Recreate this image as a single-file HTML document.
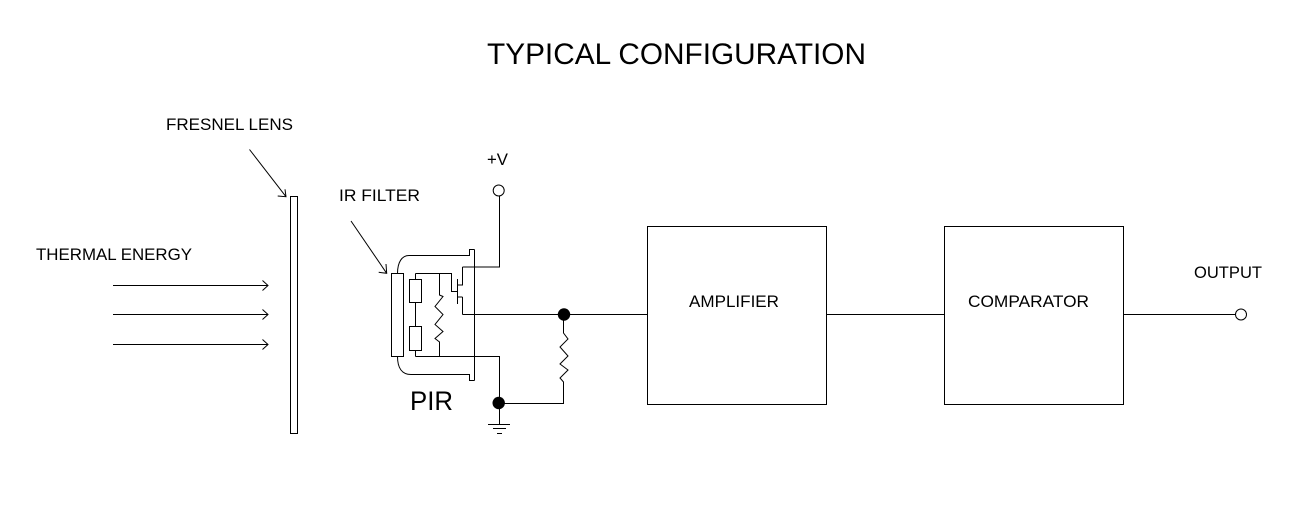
<!DOCTYPE html>
<html><head><meta charset="utf-8"><style>
html,body{margin:0;padding:0;background:#fff;width:1298px;height:515px;overflow:hidden}
svg{display:block}
text{font-family:"Liberation Sans",sans-serif;fill:#000}
</style></head><body>
<svg width="1298" height="515" viewBox="0 0 1298 515" xmlns="http://www.w3.org/2000/svg">
<g fill="none" stroke="#000" stroke-width="1">
<rect x="290.500" y="196.500" width="7" height="237"/>
<path d="M113 285.500H267.500M262.500 280.500L268 285.500L262.500 290.500"/>
<path d="M113 314.500H267.500M262.500 309.500L268 314.500L262.500 319.500"/>
<path d="M113 344.500H267.500M262.500 339.500L268 344.500L262.500 349.500"/>
<path d="M249.500 149.500L286 196.700M277.700 196L286 196.700L285 189.300"/>
<path d="M351 221L386.700 273.300M378.700 272.300L386.700 273.300L386 264"/>
<rect x="391.500" y="273.500" width="12" height="83"/>
<path d="M397.500 273.500C397.500 262 402 255.500 409 255.500H469.500V249.500H474.500"/>
<path d="M397.500 356.500C397.500 368 402 374.500 411 374.500H469.500V380.500H474.500"/>
<path d="M474.500 249.500V380.500"/>
<path d="M415.500 273.500H451.500V291.500H457.500"/>
<path d="M457.500 279V304"/>
<path d="M462.500 267V285H457.500M462.500 297H457.500M462.500 297V314.500"/>
<path d="M462.500 267H499.500V196"/>
<path d="M462.500 314.500H647.500"/>
<rect x="409.500" y="279.500" width="12" height="23"/>
<rect x="409.500" y="326.500" width="12" height="24"/>
<path d="M415.500 273.500V279.500M415.500 302.500V326.500M415.500 350.500V356.500"/>
<path d="M439.500 273.500V295L443 296.500L435 306.500L443 314.500L435 324.500L443 331.500L435 338.500L439.500 342V356.500"/>
<path d="M415.500 356.500H499.500V424.500"/>
<path d="M488 424.500H510M493 428.500H506M497 433.500H502"/>
<path d="M499.500 403.500H563.500V382L560 378L568 370L560 364L568 356L560 347L568 339L563.500 333V314.500"/>
<rect x="647.500" y="226.500" width="179" height="178"/>
<rect x="944.500" y="226.500" width="179" height="178"/>
<path d="M826.500 314.500H944.500M1123.500 314.500H1235.500"/>
<circle cx="498.700" cy="190.500" r="5.500"/>
<circle cx="1241" cy="314.500" r="5.500"/>
</g>
<circle cx="498.700" cy="403" r="6.200" fill="#000"/>
<circle cx="564" cy="314.500" r="6.200" fill="#000"/>
<text x="487" y="64" font-size="29.500" textLength="379" lengthAdjust="spacingAndGlyphs">TYPICAL CONFIGURATION</text>
<text x="166" y="130" font-size="16.500" textLength="127" lengthAdjust="spacingAndGlyphs">FRESNEL LENS</text>
<text x="339" y="201" font-size="16.500" textLength="81" lengthAdjust="spacingAndGlyphs">IR FILTER</text>
<text x="36" y="260" font-size="16.500" textLength="156" lengthAdjust="spacingAndGlyphs">THERMAL ENERGY</text>
<text x="487" y="165" font-size="16.500" textLength="21" lengthAdjust="spacingAndGlyphs">+V</text>
<text x="689" y="307" font-size="16.500" textLength="90" lengthAdjust="spacingAndGlyphs">AMPLIFIER</text>
<text x="968" y="307" font-size="16.500" textLength="121" lengthAdjust="spacingAndGlyphs">COMPARATOR</text>
<text x="1194" y="278" font-size="16.500" textLength="68" lengthAdjust="spacingAndGlyphs">OUTPUT</text>
<text x="410" y="410" font-size="27" textLength="43" lengthAdjust="spacingAndGlyphs">PIR</text>
</svg>
</body></html>
